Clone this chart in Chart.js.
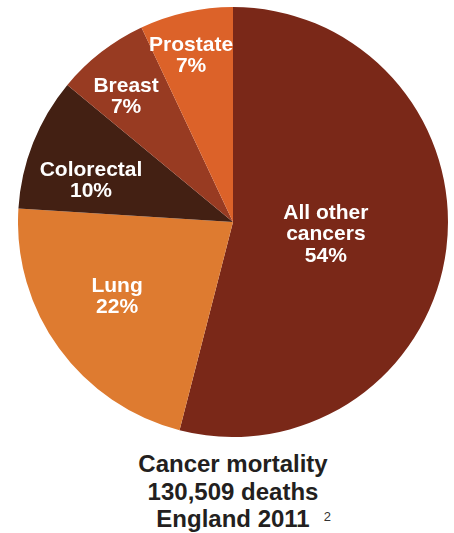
<!DOCTYPE html>
<html>
<head>
<meta charset="utf-8">
<script src="https://cdn.jsdelivr.net/npm/chart.js@4"></script>
<style>
  html, body { margin: 0; padding: 0; background: #fff; }
  body { width: 454px; height: 533px; position: relative; overflow: hidden;
         font-family: "Liberation Sans", Arial, Helvetica, sans-serif; }
  #pieBox { position: absolute; left: 18px; top: 7px; width: 430px; height: 430px; }
  #caption { position: absolute; left: 0; top: 450px; width: 466px; text-align: center;
             font-weight: bold; font-size: 24px; line-height: 27.5px; color: #231f20; }
  #caption .ref { position: absolute; font-weight: normal; font-size: 13px; line-height: 13px;
                  margin-left: 14px; top: 5px; color: #333; }
  .last { position: relative; }
</style>
</head>
<body>
<div id="pieBox"><canvas id="pieChart"></canvas></div>
<div id="caption">
  Cancer mortality<br>
  130,509 deaths<br>
  <span class="last">England 2011<span class="ref">2</span></span>
</div>
<script>
// Cancer mortality, England 2011
const categories = ["All other\ncancers", "Lung", "Colorectal", "Breast", "Prostate"];
const shares = [54, 22, 10, 7, 7];
const colours = ["#7a2818", "#de7b30", "#432013", "#983b22", "#dc6229"];

// label placement per slice: distance out (fraction of radius) and turn from mid-angle (deg)
const labelPlace = {
  radius: [0.435, 0.637, 0.69, 0.772, 0.806],
  turn:   [-0.5, 3.8, -4.8, -2.3, -1.4]
};

const sliceLabels = {
  id: 'sliceLabels',
  afterDatasetsDraw(chart) {
    const ctx = chart.ctx;
    const arcs = chart.getDatasetMeta(0).data;
    const size = 21, lh = 21.5, capH = size * 0.716;
    ctx.save();
    ctx.fillStyle = '#ffffff';
    ctx.font = 'bold ' + size + 'px "Liberation Sans", Arial, sans-serif';
    ctx.textAlign = 'center';
    ctx.textBaseline = 'alphabetic';
    arcs.forEach((arc, i) => {
      const p = arc.getProps(['x', 'y', 'startAngle', 'endAngle', 'outerRadius'], true);
      const mid = (p.startAngle + p.endAngle) / 2 + labelPlace.turn[i] * Math.PI / 180;
      const r = p.outerRadius * labelPlace.radius[i];
      const cx = p.x + Math.cos(mid) * r;
      const cy = p.y + Math.sin(mid) * r;
      const lines = categories[i].split('\n').concat([shares[i] + '%']);
      const first = cy - (lines.length - 1) * lh / 2 + capH / 2;
      lines.forEach((t, k) => ctx.fillText(t, cx, first + k * lh));
    });
    ctx.restore();
  }
};

new Chart(document.getElementById('pieChart'), {
  type: 'pie',
  data: {
    labels: categories,
    datasets: [{
      data: shares,
      backgroundColor: colours,
      borderWidth: 0
    }]
  },
  options: {
    responsive: true,
    maintainAspectRatio: false,
    animation: false,
    layout: { padding: 0 },
    plugins: {
      legend: { display: false },
      tooltip: { enabled: false }
    }
  },
  plugins: [sliceLabels]
});
</script>
</body>
</html>
